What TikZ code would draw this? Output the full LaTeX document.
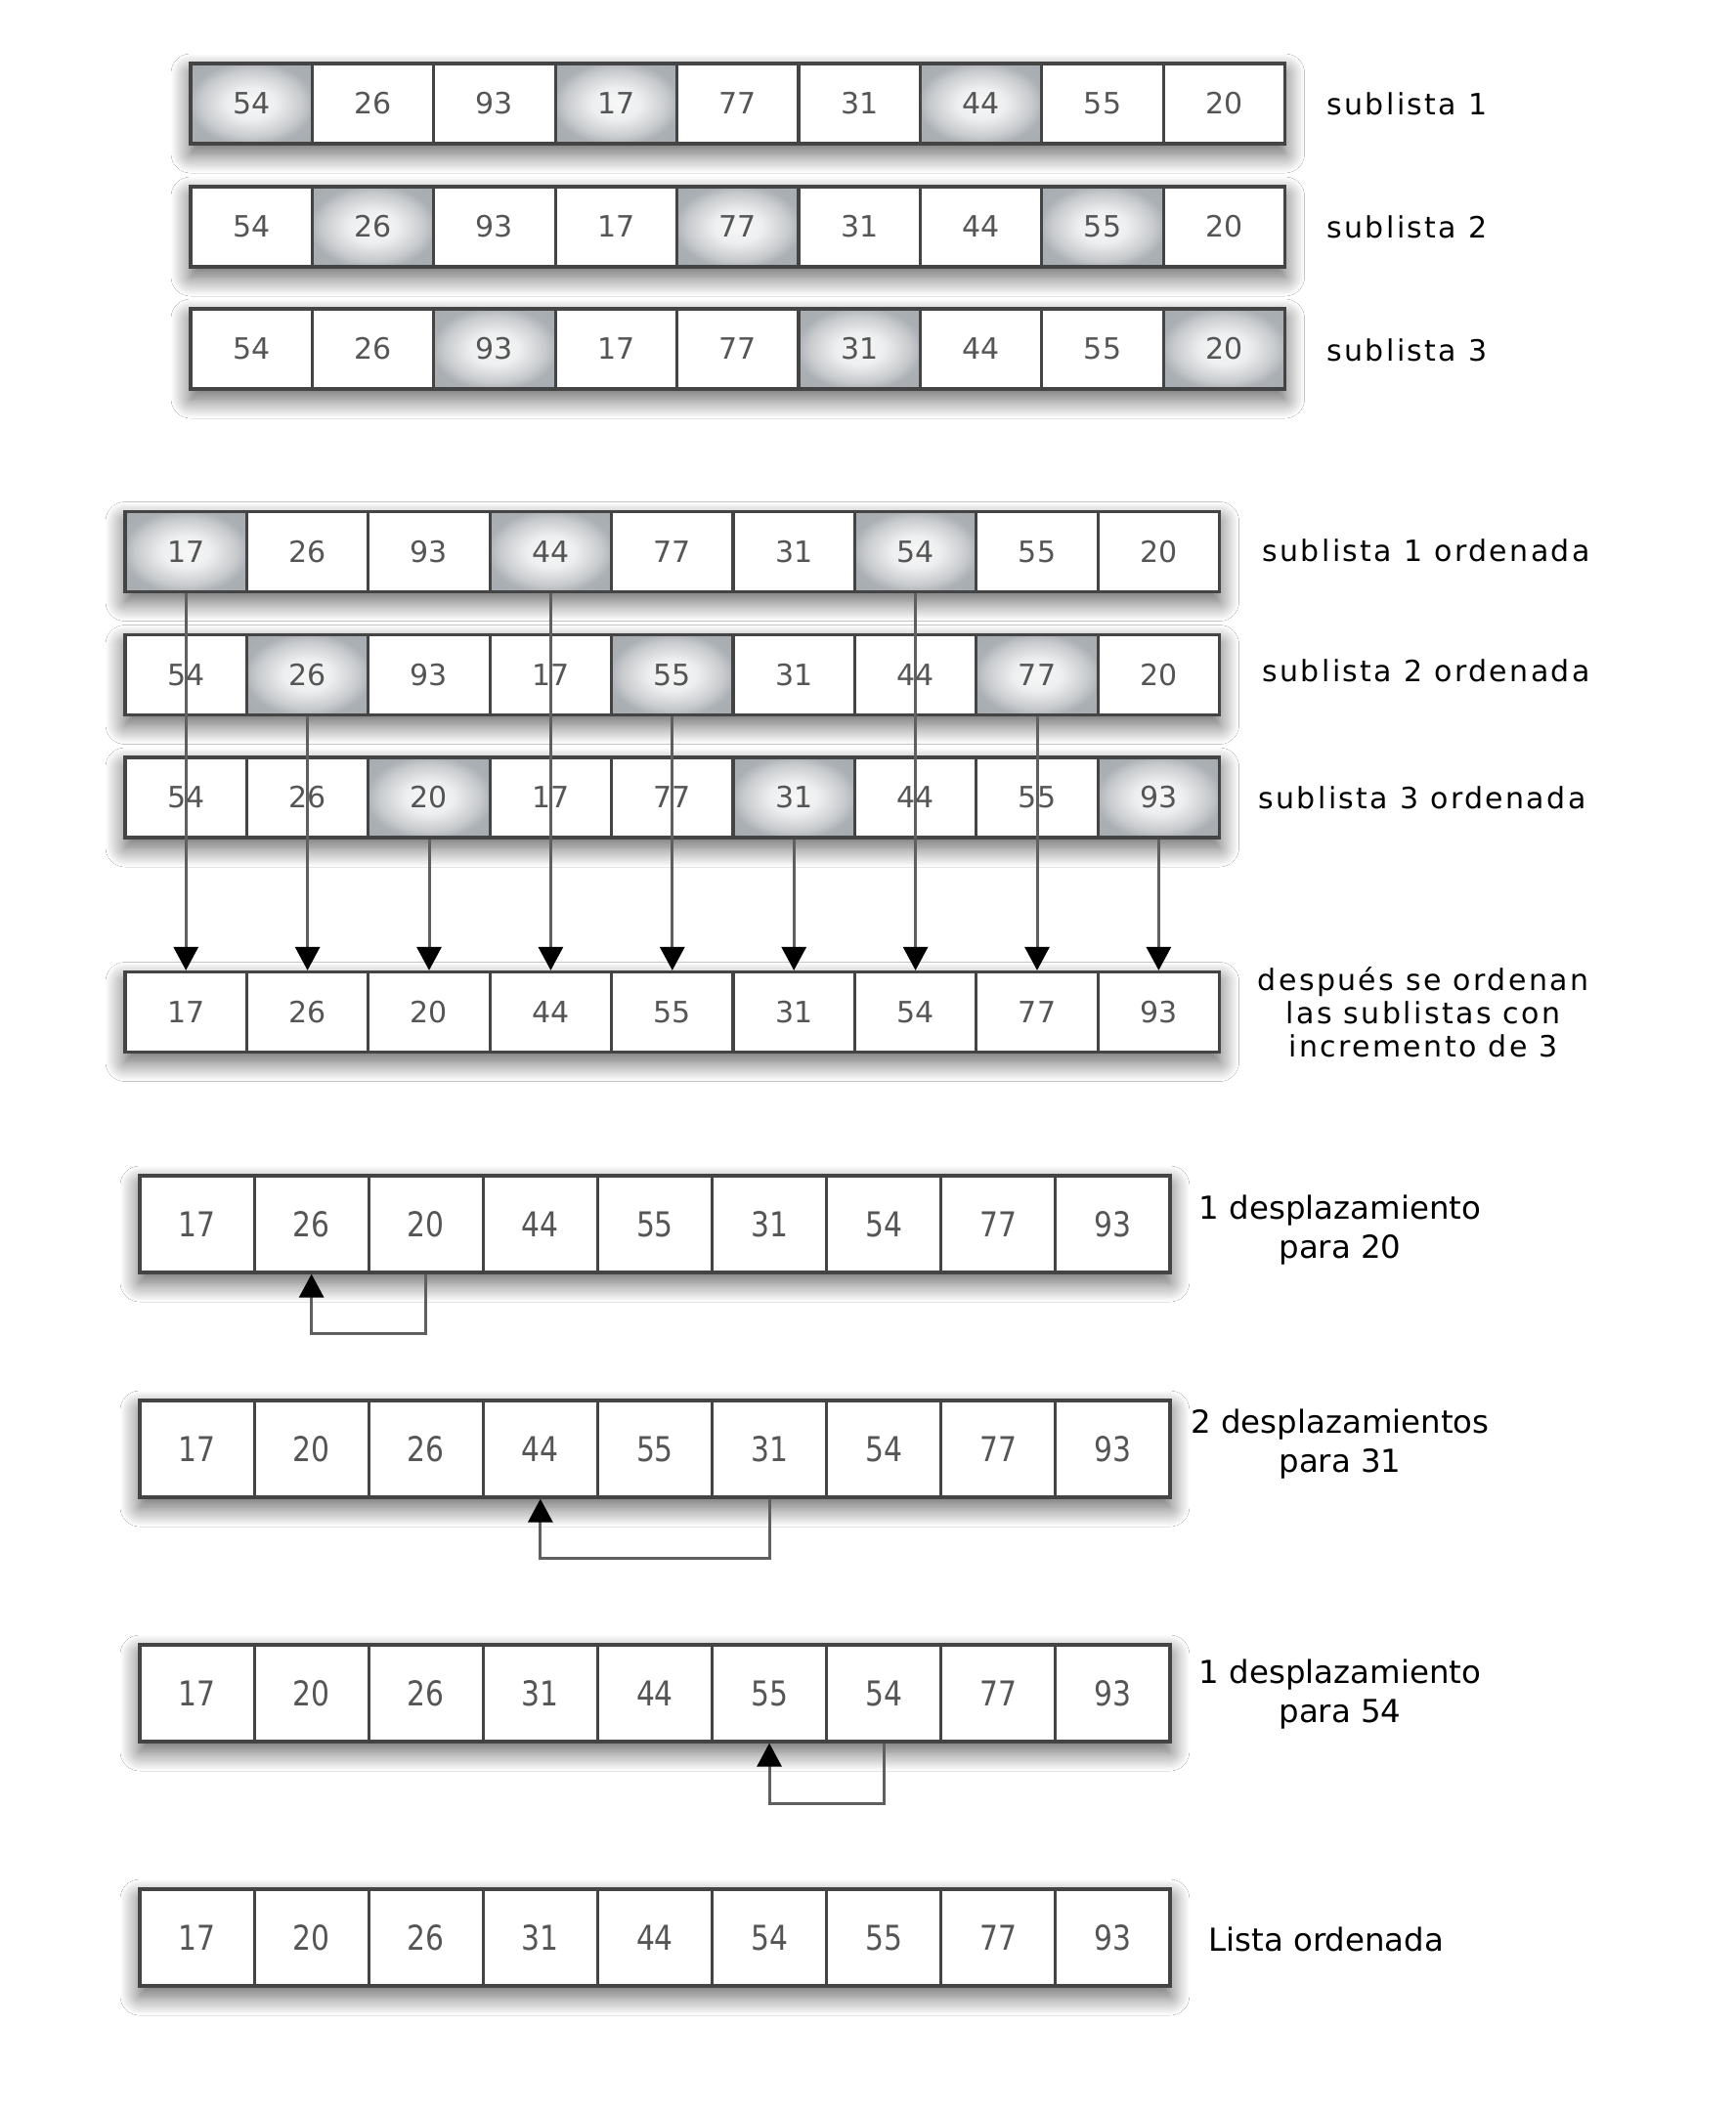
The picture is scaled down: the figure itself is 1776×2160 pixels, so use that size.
\documentclass[tikz,border=0pt]{standalone}
\usepackage{fontspec}
\setmainfont{DejaVu Sans}
\newfontfamily\labfont[LetterSpace=8]{DejaVu Sans}
\newfontfamily\numfontb[FakeStretch=0.85]{DejaVu Sans}
\usetikzlibrary{arrows.meta,shadows.blur}
\definecolor{numgray}{RGB}{85,85,85}
\definecolor{edgegray}{RGB}{68,68,68}
\definecolor{linegray}{RGB}{95,95,95}
\pgfdeclareradialshading{cellshade}{\pgfpoint{0bp}{0bp}}{rgb(0bp)=(0.97,0.97,0.97); rgb(10bp)=(0.93,0.935,0.94); rgb(21bp)=(0.78,0.79,0.80); rgb(26bp)=(0.67,0.69,0.71); rgb(50bp)=(0.62,0.64,0.66)}
\tikzset{
  cell/.style={draw=edgegray, line width=1.6pt, fill=white, inner sep=0pt, text=numgray},
  hlcell/.style={draw=edgegray, line width=1.6pt, shading=cellshade, inner sep=0pt, text=numgray},
  rowshadow/.style={fill=white, blur shadow={shadow xshift=0pt, shadow yshift=-5pt, shadow blur radius=10pt, shadow blur steps=20, shadow opacity=65}},
  smallnum/.style={font=\fontsize{15}{18}\selectfont},
  bignum/.style={font=\numfontb\fontsize{17.5}{20}\selectfont},
  conn/.style={draw=linegray, line width=1.5pt, -{Triangle[length=12pt,width=12.5pt,color=black]}},
  lab/.style={font=\labfont\fontsize{15}{17}\selectfont, text=black, inner sep=0pt},
  blab/.style={font=\fontsize{16.2}{20}\selectfont, text=black, inner sep=0pt, align=center}
}
% name, x0, yc, w, h, list, highlight residue, number style
\newcommand\cellrow[8]{%
  \fill[rowshadow] (#2,#3-#5/2) rectangle (#2+9*#4,#3+#5/2);
  \foreach \v [count=\i] in {#6} {
    \pgfmathtruncatemacro\m{mod(\i-1,3)}
    \ifnum\m=#7 \tikzset{curcell/.style={hlcell}}\else\tikzset{curcell/.style={cell}}\fi
    \node[curcell, #8, minimum width=#4*0.5pt, minimum height=#5*0.5pt] (#1-\i) at (#2+#4*\i-#4/2, #3) {\v};
  }
}
\begin{document}
\begin{tikzpicture}[x=0.5pt, y=-0.5pt]
\fill[white] (0,0) rectangle (1776,2160);
\useasboundingbox (0,0) rectangle (1776,2160);
% first three rows
\cellrow{r1}{195}{106}{124.4}{82}{54,26,93,17,77,31,44,55,20}{0}{smallnum}
\cellrow{r2}{195}{232}{124.4}{82}{54,26,93,17,77,31,44,55,20}{1}{smallnum}
\cellrow{r3}{195}{357}{124.4}{82}{54,26,93,17,77,31,44,55,20}{2}{smallnum}
% sorted sublists
\cellrow{r4}{128}{564.5}{124.4}{82}{17,26,93,44,77,31,54,55,20}{0}{smallnum}
\cellrow{r5}{128}{690.5}{124.4}{82}{54,26,93,17,55,31,44,77,20}{1}{smallnum}
\cellrow{r6}{128}{816}{124.4}{82}{54,26,20,17,77,31,44,55,93}{2}{smallnum}
\cellrow{r7}{128}{1035.5}{124.4}{82}{17,26,20,44,55,31,54,77,93}{-1}{smallnum}
% insertion passes
\cellrow{r8}{143}{1252.5}{117.1}{99}{17,26,20,44,55,31,54,77,93}{-1}{bignum}
\cellrow{r9}{143}{1482.5}{117.1}{99}{17,20,26,44,55,31,54,77,93}{-1}{bignum}
\cellrow{r10}{143}{1732.5}{117.1}{99}{17,20,26,31,44,55,54,77,93}{-1}{bignum}
\cellrow{r11}{143}{1982.5}{117.1}{99}{17,20,26,31,44,54,55,77,93}{-1}{bignum}
% merge arrows
\foreach \c/\r in {1/4,4/4,7/4,2/5,5/5,8/5,3/6,6/6,9/6}
  \draw[conn] (r\r-\c.south) -- (r7-\c.north);
% shift arrows
\draw[conn] (r8-3.south) -- ++(0,61) -| (r8-2.south);
\draw[conn] (r9-6.south) -- ++(0,61) -| (r9-4.south);
\draw[conn] (r10-7.south) -- ++(0,62) -| (r10-6.south);
% labels
\node[lab, anchor=west] (s1) at (1357,106) {sublista 1};
\node[lab, anchor=west] (s2) at (1357,232) {sublista 2};
\node[lab, anchor=west] (s3) at (1357,358) {sublista 3};
\node[lab, anchor=west] (o1) at (1291,563) {sublista 1 ordenada};
\node[lab, anchor=west] (o2) at (1291,686) {sublista 2 ordenada};
\node[lab, anchor=west] (o3) at (1287,816) {sublista 3 ordenada};
\node[lab, align=center] (d) at (1456,1036) {después se ordenan\\las sublistas con\\incremento de 3};
\node[blab] (m1) at (1371,1259) {1 desplazamiento\\para 20};
\node[blab] (m2) at (1371,1478) {2 desplazamientos\\para 31};
\node[blab] (m3) at (1371,1734) {1 desplazamiento\\para 54};
\node[blab, anchor=west] (lo) at (1236,1984) {Lista ordenada};
\end{tikzpicture}
\end{document}
